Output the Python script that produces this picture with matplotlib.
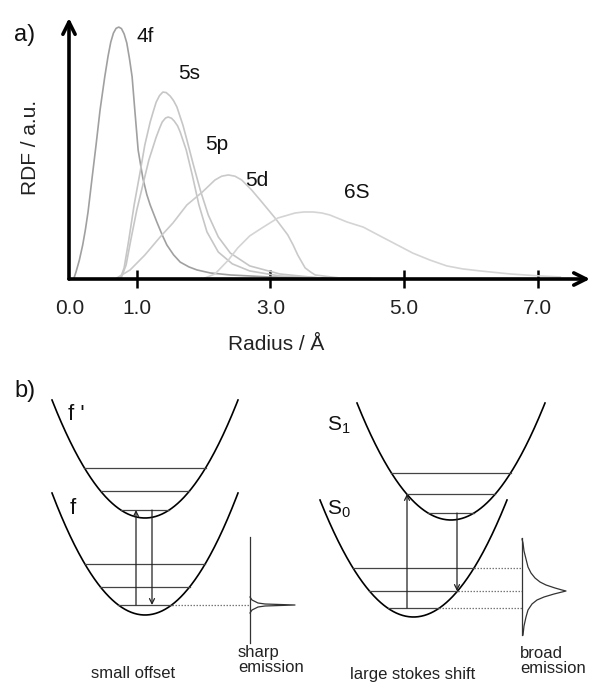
import numpy as np
import matplotlib
matplotlib.use("Agg")
import matplotlib.pyplot as plt

plt.rcParams['font.family'] = ['Liberation Sans', 'DejaVu Sans']
plt.rcParams['mathtext.fontset'] = 'custom'
plt.rcParams['mathtext.rm'] = 'Liberation Sans'
plt.rcParams['mathtext.default'] = 'regular'

# ---------------- panel a data (radius in Å, RDF in a.u.) ----------------
r_4f = [0.06, 0.09, 0.14, 0.19, 0.23, 0.27, 0.33, 0.39, 0.45, 0.52, 0.57, 0.61, 0.65, 0.69,
        0.73, 0.77, 0.81, 0.85, 0.89, 0.93, 0.97, 1.02, 1.09, 1.15, 1.20, 1.30, 1.38, 1.45,
        1.55, 1.65, 1.78, 1.90, 2.10, 2.40, 2.99, 3.89, 4.50]
rdf_4f = [0.4, 2.8, 7.5, 13.5, 19.5, 26.6, 40.0, 53.2, 67.1, 80.2, 88.5, 94.0, 97.6, 99.5,
          100, 99.4, 97.3, 93.7, 87.5, 80.2, 67.1, 51.2, 40.1, 33.5, 29.4, 22.6, 17.5, 13.5,
          9.6, 6.7, 4.8, 3.6, 2.4, 1.6, 0.8, 0.4, 0.2]
r_5s = [0.75, 0.81, 0.88, 0.96, 1.05, 1.12, 1.20, 1.25, 1.29, 1.34, 1.39, 1.44, 1.50, 1.55,
        1.60, 1.69, 1.75, 1.84, 1.95, 2.07, 2.22, 2.40, 2.69, 3.14, 3.74]
rdf_5s = [0, 4.4, 15.5, 29.4, 42.5, 53.2, 62.3, 66.8, 70.2, 72.8, 74.2, 74.0, 72.6, 70.8,
          68.3, 61.1, 55.2, 46.0, 35.3, 25.4, 16.7, 10.3, 5.2, 2.0, 0.4]
r_5p = [0.76, 0.84, 0.91, 1.00, 1.09, 1.18, 1.29, 1.34, 1.38, 1.43, 1.47, 1.52, 1.56, 1.61,
        1.65, 1.74, 1.83, 1.93, 2.05, 2.22, 2.43, 2.69, 3.14, 3.74]
rdf_5p = [0, 5.6, 15.5, 27.4, 37.3, 47.2, 56.3, 59.8, 62.3, 63.9, 64.3, 63.8, 62.7, 60.8,
          58.3, 51.2, 41.3, 29.4, 18.7, 10.7, 6.0, 3.2, 1.2, 0.4]
r_5d = [0.70, 0.90, 1.12, 1.35, 1.54, 1.75, 1.98, 2.17, 2.27, 2.37, 2.47, 2.57, 2.72, 2.87,
        3.07, 3.26, 3.34, 3.41, 3.47, 3.52, 3.60, 3.67, 4.04]
rdf_5d = [0.4, 3.6, 9.5, 16.7, 22.2, 29.4, 34.5, 39.3, 40.8, 41.3, 40.8, 39.3, 35.3, 30.6,
          24.2, 17.5, 13.5, 9.5, 6.7, 4.4, 2.8, 1.6, 0.4]
r_6s = [2.02, 2.17, 2.37, 2.51, 2.69, 2.87, 3.11, 3.37, 3.50, 3.64, 3.77, 3.89, 4.15, 4.39,
        4.64, 4.90, 5.13, 5.39, 5.64, 5.88, 6.14, 6.59, 7.04, 7.34]
rdf_6s = [0.4, 2.0, 7.5, 12.3, 17.1, 20.2, 24.2, 26.2, 26.6, 26.6, 26.2, 25.4, 22.6, 20.6,
          17.1, 13.5, 10.3, 7.5, 5.2, 4.0, 3.2, 2.0, 1.2, 0.8]

orbital_labels = ['4f', '5s', '5p', '5d', '6S']
label_r = [1.12, 1.78, 2.19, 2.80, 4.30]
label_rdf = [96.4, 81.7, 53.2, 38.9, 34.5]

tick_vals = [0, 1, 3, 5, 7]
tick_labels = ['0.0', '1.0', '3.0', '5.0', '7.0']

# ---------------- panel b schematic (pixel-like units) ----------------
# parabolas: centre x, vertex y, half-width, depth
par_fp = (145, 518, 93, 118)
par_f = (145, 615, 93, 122)
par_S1 = (451, 520, 94, 117)
par_S0 = (413.5, 617, 93.5, 117)
levels_fp = [468, 491, 510]
levels_f = [564, 587, 605]
levels_S1 = [473, 494, 513]
levels_S0 = [568, 591, 608]

sharp_x0, sharp_top, sharp_bot, sharp_peak = 250, 537, 643, 605
sharp_dy = [-8, -5, -2, -1, 0, 1, 2, 5, 8]
sharp_dx = [0, 2, 8, 15, 45, 15, 8, 2, 0]
broad_x0, broad_top, broad_bot, broad_peak = 522, 538, 635, 591
broad_dy = [-52, -48, -40, -32, -24, -18, -13, -9, -6, -3, -1, 0, 1, 3, 6, 9, 13, 19, 26, 35, 44]
broad_dx = [0, 1, 2, 4, 6, 9, 13, 18, 24, 33, 40, 44, 40, 32, 22, 15, 10, 6, 4, 2, 1]

W, H = 591, 682
fig = plt.figure(figsize=(W / 100, H / 100), dpi=100)


def fx(px):
    return px / W


def fy(py):
    return 1 - py / H


# ---------- panel a ----------
ax = fig.add_axes([fx(69), fy(279), (590 - 69) / W, (279 - 18) / H])
ax.set_xlim(-0.015, 7.784)
ax.set_ylim(0, 103.6)
for s in ax.spines.values():
    s.set_visible(False)

kw = dict(lw=1.2, solid_joinstyle='round')
ax.plot(r_4f, rdf_4f, color='#a0a0a0', **kw)
ax.plot(r_5s, rdf_5s, color='#c6c6c6', **kw)
ax.plot(r_5p, rdf_5p, color='#c6c6c6', **kw)
ax.plot(r_5d, rdf_5d, color='#cacaca', **kw)
ax.plot(r_6s, rdf_6s, color='#d4d4d4', **kw)

for lab, xr, yr in zip(orbital_labels, label_r, label_rdf):
    ax.text(xr, yr, lab, fontsize=15, ha='center', va='center', color='#111111')

ax.annotate('', xy=(1, 0), xytext=(0, 0), xycoords='axes fraction',
            arrowprops=dict(arrowstyle='->', lw=2.6, color='black', mutation_scale=22,
                            shrinkA=0, shrinkB=0), annotation_clip=False)
ax.annotate('', xy=(0, 1), xytext=(0, 0), xycoords='axes fraction',
            arrowprops=dict(arrowstyle='->', lw=2.6, color='black', mutation_scale=22,
                            shrinkA=0, shrinkB=0), annotation_clip=False)

ax.set_xticks(tick_vals)
ax.set_xticklabels(tick_labels, fontsize=15, color='#222222')
ax.set_yticks([])
ax.tick_params(axis='x', direction='inout', length=13, width=1.8, pad=8)
ax.xaxis.get_major_ticks()[0].tick1line.set_visible(False)

fig.text(fx(276), fy(344), 'Radius / Å', fontsize=15, ha='center', va='center', color='#222222')
fig.text(fx(30), fy(147), 'RDF / a.u.', fontsize=15, ha='center', va='center',
         rotation=90, color='#222222')
fig.text(fx(25), fy(35), 'a)', fontsize=17, ha='center', va='center', color='#111111')
fig.text(fx(25), fy(391), 'b)', fontsize=17, ha='center', va='center', color='#111111')

# ---------- panel b ----------
bx = fig.add_axes([0, 0, 1, 1])
bx.set_xlim(0, W)
bx.set_ylim(H, 0)
bx.axis('off')
bx.patch.set_alpha(0)


def parabola(p):
    cx, vy, hw, d = p
    x = np.linspace(cx - hw, cx + hw, 300)
    y = vy - d * ((x - cx) / hw) ** 2
    bx.plot(x, y, color='black', lw=1.2)


def half(p, yl):
    cx, vy, hw, d = p
    return hw * np.sqrt((vy - yl) / d)


def levels(p, lv, ext_to=None):
    cx = p[0]
    for yl in lv:
        h = half(p, yl)
        bx.plot([cx - h, cx + h], [yl, yl], color='#444444', lw=0.9)
        if ext_to is not None:
            bx.plot([cx + h, ext_to], [yl, yl], color='#777777', lw=0.9, ls=(0, (1.2, 1.2)))


for p in (par_fp, par_f, par_S1, par_S0):
    parabola(p)
levels(par_fp, levels_fp)
levels(par_f, levels_f[:2])
levels(par_S1, levels_S1)
levels(par_S0, levels_S0, ext_to=broad_x0)
# ground level of f, extended to the sharp spectrum
h0 = half(par_f, levels_f[2])
bx.plot([par_f[0] - h0, par_f[0] + h0], [levels_f[2]] * 2, color='#444444', lw=0.9)
bx.plot([par_f[0] + h0, sharp_x0], [levels_f[2]] * 2, color='#777777', lw=0.9, ls=(0, (1.2, 1.2)))

arr = dict(arrowstyle='->', lw=0.9, color='#222222', mutation_scale=9, shrinkA=0, shrinkB=0)
bx.annotate('', xy=(136, levels_fp[2]), xytext=(136, levels_f[2]), arrowprops=arr)
bx.annotate('', xy=(152, levels_f[2]), xytext=(152, levels_fp[2]), arrowprops=arr)
bx.annotate('', xy=(407, levels_S1[1]), xytext=(407, levels_S0[2]), arrowprops=arr)
bx.annotate('', xy=(457, levels_S0[1]), xytext=(457, levels_S1[2]), arrowprops=arr)

# spectra
bx.plot([sharp_x0, sharp_x0], [sharp_top, sharp_bot], color='#333333', lw=0.9)
bx.plot([sharp_x0 + d for d in sharp_dx], [sharp_peak + d for d in sharp_dy],
        color='#333333', lw=0.9)
bx.plot([broad_x0, broad_x0], [broad_top, broad_bot], color='#333333', lw=0.9)
bx.plot([broad_x0 + d for d in broad_dx], [broad_peak + d for d in broad_dy],
        color='#333333', lw=0.9, solid_joinstyle='round')

bx.text(76, 415, "f '", fontsize=16, ha='center', va='center', color='#111111')
bx.text(73, 508, 'f', fontsize=16, ha='center', va='center', color='#111111')
bx.text(339, 425, 'S$_1$', fontsize=15, ha='center', va='center', color='#111111')
bx.text(339, 509, 'S$_0$', fontsize=15, ha='center', va='center', color='#111111')

bx.text(133, 674, 'small offset', fontsize=12, ha='center', va='center', color='#222222')
bx.text(238, 660, 'sharp\nemission', fontsize=12, ha='left', va='center',
        color='#222222', linespacing=1.05)
bx.text(413, 674, 'large stokes shift', fontsize=12, ha='center', va='center', color='#222222')
bx.text(520, 661, 'broad\nemission', fontsize=12, ha='left', va='center',
        color='#222222', linespacing=1.05)

fig.savefig('out.png', dpi=100)
